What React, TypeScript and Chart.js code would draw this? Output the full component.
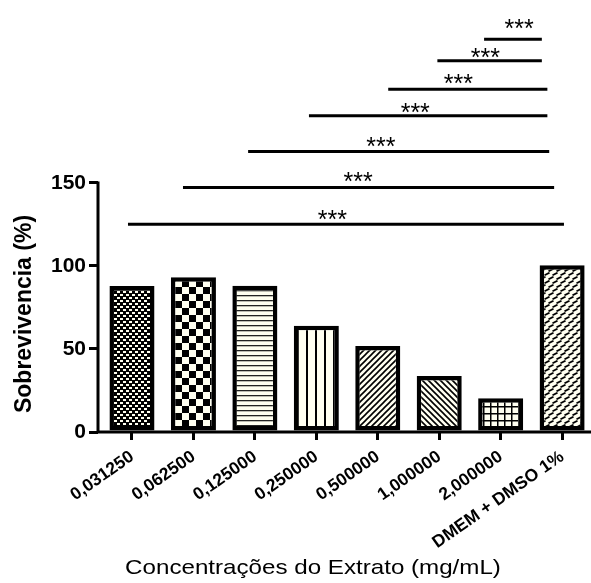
import { useEffect, useRef } from 'react';
import { Chart, registerables } from 'chart.js';

Chart.register(...registerables);

const categories = ['0,031250', '0,062500', '0,125000', '0,250000', '0,500000', '1,000000', '2,000000', 'DMEM + DMSO 1%'];
const survival = [88, 93.2, 88.1, 64, 51.8, 33.7, 20.3, 100.5];
const yTickValues = [0, 50, 100, 150];
const patternKinds = ['fineChecker', 'checker', 'hlines', 'vlines', 'diagUp', 'diagDown', 'grid', 'brick'];

// significance brackets (x in category index units, y in %)
const sigStart = [-0.065, 0.83, 1.89, 2.88, 4.17, 4.97, 5.73];
const sigEnd = [7.03, 6.87, 6.79, 6.76, 6.76, 6.67, 6.67];
const sigLevel = [125.1, 147.2, 168.9, 190.5, 206.4, 223.6, 236.6];
const starX = [3.26, 3.68, 4.05, 4.61, 5.31, 5.75, 6.3];
const starY = [131.7, 154.2, 175.3, 195.8, 213.3, 228.9, 246.6];
const starText = ['***', '***', '***', '***', '***', '***', '***'];

const xTitle = 'Concentrações do Extrato (mg/mL)';
const yTitle = 'Sobrevivencia (%)';

const FONT = "'Liberation Sans', Arial, sans-serif";
const IVORY = '#fffff0';

function makePattern(kind: string): CanvasPattern | string {
  const c = document.createElement('canvas');
  let w = 8, h = 8;
  if (kind === 'fineChecker') { w = 6; h = 6; }
  if (kind === 'checker') { w = 14; h = 14; }
  if (kind === 'hlines') { w = 5; h = 5; }
  if (kind === 'vlines') { w = 9; h = 9; }
  if (kind === 'diagUp' || kind === 'diagDown') { w = 6; h = 6; }
  if (kind === 'grid') { w = 7; h = 7; }
  if (kind === 'brick') { w = 8; h = 8; }
  c.width = w; c.height = h;
  const ctx = c.getContext('2d')!;
  ctx.fillStyle = IVORY;
  ctx.fillRect(0, 0, w, h);
  ctx.fillStyle = '#000';
  ctx.strokeStyle = '#000';
  switch (kind) {
    case 'fineChecker':
      ctx.fillRect(0, 0, w, h);
      ctx.fillStyle = IVORY;
      ctx.fillRect(0, 0, 3, 2);
      ctx.fillRect(3, 3, 3, 2);
      break;
    case 'checker':
      ctx.fillRect(0, 0, 7, 7);
      ctx.fillRect(7, 7, 7, 7);
      break;
    case 'hlines':
      ctx.fillStyle = '#222';
      ctx.fillRect(0, 0, w, 1.3);
      break;
    case 'vlines':
      ctx.fillRect(0, 0, 2, h);
      break;
    case 'diagUp':
      ctx.lineWidth = 1.6;
      ctx.beginPath();
      ctx.moveTo(-1, h + 1); ctx.lineTo(w + 1, -1);
      ctx.moveTo(-2, 2); ctx.lineTo(2, -2);
      ctx.moveTo(w - 2, h + 2); ctx.lineTo(w + 2, h - 2);
      ctx.stroke();
      break;
    case 'diagDown':
      ctx.lineWidth = 1.6;
      ctx.beginPath();
      ctx.moveTo(-1, -1); ctx.lineTo(w + 1, h + 1);
      ctx.moveTo(w - 2, -2); ctx.lineTo(w + 2, 2);
      ctx.moveTo(-2, h - 2); ctx.lineTo(2, h + 2);
      ctx.stroke();
      break;
    case 'grid':
      ctx.fillRect(0, 0, 1.5, h);
      ctx.fillRect(0, 0, w, 1.5);
      break;
    case 'brick':
      ctx.lineWidth = 1.8;
      ctx.beginPath();
      ctx.moveTo(0.5, 3.3); ctx.lineTo(5.5, 0.7);
      ctx.moveTo(4.5, 7.3); ctx.lineTo(9.5, 4.7);
      ctx.moveTo(-3.5, 7.3); ctx.lineTo(1.5, 4.7);
      ctx.stroke();
      break;
  }
  return ctx.createPattern(c, 'repeat') || IVORY;
}

const overlayPlugin = {
  id: 'overlay',
  afterDatasetsDraw(chart: any) {
    const { ctx, chartArea, scales } = chart;
    const xs = scales.x;
    const ys = scales.y;
    ctx.save();
    ctx.strokeStyle = '#000';
    ctx.fillStyle = '#000';
    ctx.lineCap = 'butt';
    // axis lines
    ctx.lineWidth = 3;
    ctx.beginPath();
    ctx.moveTo(chartArea.left, ys.getPixelForValue(0) + 1.5);
    ctx.lineTo(chartArea.left, ys.getPixelForValue(yTickValues[yTickValues.length - 1]) - 1.5);
    ctx.moveTo(chartArea.left - 1.5, ys.getPixelForValue(0));
    ctx.lineTo(chartArea.right, ys.getPixelForValue(0));
    ctx.stroke();
    // significance lines
    ctx.lineWidth = 3;
    for (let i = 0; i < sigStart.length; i++) {
      const y = ys.getPixelForValue(sigLevel[i]);
      ctx.beginPath();
      ctx.moveTo(xs.getPixelForValue(sigStart[i]), y);
      ctx.lineTo(xs.getPixelForValue(sigEnd[i]), y);
      ctx.stroke();
    }
    const fs = 25;
    ctx.font = `${fs}px ${FONT}`;
    ctx.textAlign = 'center';
    ctx.textBaseline = 'alphabetic';
    for (let i = 0; i < starX.length; i++) {
      ctx.fillText(starText[i], xs.getPixelForValue(starX[i]), ys.getPixelForValue(starY[i]) + 0.57 * fs);
    }
    ctx.restore();
  },
  afterDraw(chart: any) {
    const { ctx, scales } = chart;
    const xs = scales.x;
    const ys = scales.y;
    ctx.save();
    ctx.fillStyle = '#000';
    // x tick labels (rotated)
    ctx.font = `bold 17.5px ${FONT}`;
    ctx.textAlign = 'right';
    ctx.textBaseline = 'alphabetic';
    const base = ys.getPixelForValue(0);
    categories.forEach((label, i) => {
      ctx.save();
      ctx.translate(xs.getPixelForValue(i) + 3, base + 27);
      ctx.rotate((-35 * Math.PI) / 180);
      ctx.fillText(label, 0, 0);
      ctx.restore();
    });
    ctx.textAlign = 'center';
    ctx.textBaseline = 'middle';
    // y title
    ctx.save();
    ctx.translate(25, 314);
    ctx.rotate(-Math.PI / 2);
    ctx.font = `bold 23px ${FONT}`;
    ctx.fillText(yTitle, 0, 0);
    ctx.restore();
    // x title
    ctx.save();
    ctx.translate(313, 568);
    ctx.scale(1.15, 1);
    ctx.font = `21px ${FONT}`;
    ctx.fillText(xTitle, 0, 0);
    ctx.restore();
    ctx.restore();
  },
};

export default function App() {
  const ref = useRef<HTMLCanvasElement>(null);
  useEffect(() => {
    if (!ref.current) return;
    const patterns = patternKinds.map(makePattern);
    const chart = new Chart(ref.current, {
      type: 'bar',
      data: {
        datasets: [
          {
            data: survival.map((v, i) => ({ x: i, y: v })),
            backgroundColor: patterns as any,
            borderColor: '#000',
            borderWidth: 4.5,
            borderSkipped: false,
            barPercentage: 0.733,
            categoryPercentage: 1,
          },
        ],
      },
      options: {
        animation: false,
        responsive: false,
        devicePixelRatio: 1,
        layout: { padding: 0 },
        plugins: {
          legend: { display: false },
          tooltip: { enabled: false },
          title: { display: false },
        },
        scales: {
          x: {
            type: 'linear',
            min: -0.553,
            max: 7.47,
            offset: false,
            afterBuildTicks: (scale: any) => {
              scale.ticks = categories.map((_, i) => ({ value: i }));
            },
            afterFit: (scale: any) => {
              scale.height = 151;
              scale.paddingLeft = 0;
              scale.paddingRight = 0;
            },
            grid: {
              display: true,
              drawOnChartArea: false,
              drawTicks: true,
              tickLength: 8,
              lineWidth: 3,
              color: '#000',
              offset: false,
            },
            border: { display: false },
            ticks: { display: false, autoSkip: false },
          },
          y: {
            type: 'linear',
            min: 0,
            max: 260.2,
            afterBuildTicks: (scale: any) => {
              scale.ticks = yTickValues.map((v) => ({ value: v }));
            },
            afterFit: (scale: any) => {
              scale.width = 98;
              scale.paddingTop = 0;
              scale.paddingBottom = 0;
            },
            grid: {
              display: true,
              drawOnChartArea: false,
              drawTicks: true,
              tickLength: 9,
              lineWidth: 3,
              color: '#000',
            },
            border: { display: false },
            ticks: {
              padding: 3,
              color: '#000',
              font: { family: FONT, size: 21, weight: 'bold' },
            },
          },
        },
      },
      plugins: [overlayPlugin],
    });
    return () => chart.destroy();
  }, []);
  return (
    <div style={{ position: 'fixed', left: 0, top: 0, width: 591, height: 583, background: '#fff' }}>
      <canvas ref={ref} width={591} height={583} style={{ width: 591, height: 583, display: 'block' }} />
    </div>
  );
}
